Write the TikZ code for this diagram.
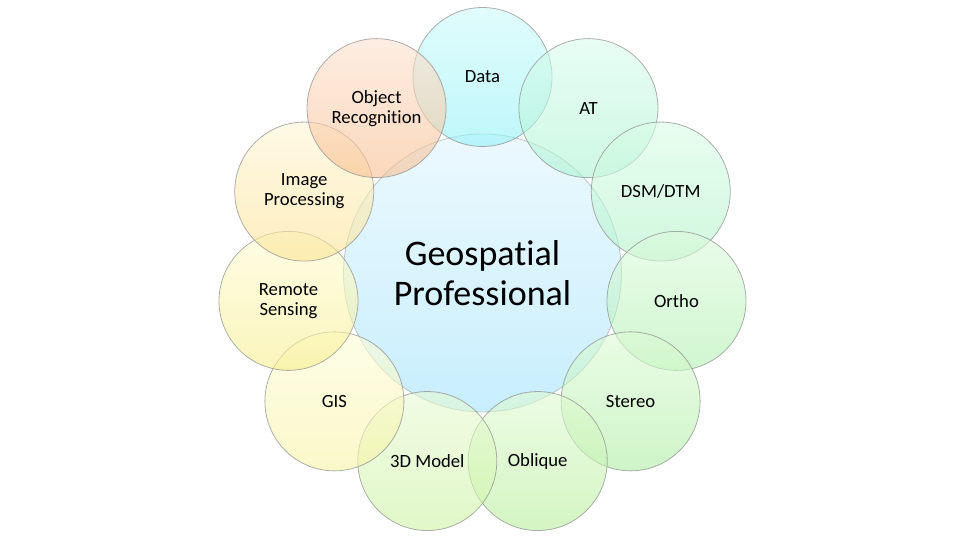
\documentclass[tikz,border=0pt]{standalone}
\usepackage{fontspec}
\setmainfont{Carlito}[Ligatures={NoCommon,NoRequired,NoContextual}]
\definecolor{cenT}{RGB}{223,245,253}\definecolor{cenB}{RGB}{163,227,252}
\definecolor{c1T}{RGB}{205,250,250}\definecolor{c1B}{RGB}{147,242,247}
\definecolor{c2T}{RGB}{217,252,237}\definecolor{c2B}{RGB}{172,243,210}
\definecolor{c3T}{RGB}{217,252,230}\definecolor{c3B}{RGB}{177,243,200}
\definecolor{c4T}{RGB}{220,250,220}\definecolor{c4B}{RGB}{177,240,177}
\definecolor{c5T}{RGB}{220,250,213}\definecolor{c5B}{RGB}{173,238,163}
\definecolor{c6T}{RGB}{223,250,210}\definecolor{c6B}{RGB}{183,238,155}
\definecolor{c7T}{RGB}{230,250,210}\definecolor{c7B}{RGB}{205,243,163}
\definecolor{c8T}{RGB}{253,253,217}\definecolor{c8B}{RGB}{247,243,163}
\definecolor{c9T}{RGB}{253,252,210}\definecolor{c9B}{RGB}{248,238,143}
\definecolor{c10T}{RGB}{255,245,213}\definecolor{c10B}{RGB}{252,227,147}
\definecolor{c11T}{RGB}{252,225,207}\definecolor{c11B}{RGB}{248,190,143}
\definecolor{edge}{RGB}{140,140,140}
\tikzset{
  bubble/.style 2 args={circle, inner sep=0pt, minimum size=104.25pt,
    top color=#1, bottom color=#2, fill opacity=0.6, text opacity=1,
    draw=edge, draw opacity=0.7, line width=0.6pt, align=center,
    font=\fontsize{14}{15}\selectfont},
  hub/.style={circle, inner sep=0pt, minimum size=208.5pt,
    top color=cenT, bottom color=cenB, fill opacity=0.6, text opacity=1,
    draw=edge, draw opacity=0.5, line width=0.6pt, align=center,
    font=\fontsize{27}{29.5}\selectfont}
}
\begin{document}
\begin{tikzpicture}[x=0.75pt,y=-0.75pt]
\useasboundingbox (0,0) rectangle (960,540);
\node[hub] (center) at (482.5,273) {Geospatial\\Professional};
\def\R{196}
\node[bubble={c1T}{c1B}] (data) at ({482.5+\R*cos(90)},{273-\R*sin(90)}) {Data};
\node[bubble={c2T}{c2B}] (at) at ({482.5+\R*cos(57.27)},{273-\R*sin(57.27)}) {AT};
\node[bubble={c3T}{c3B}] (dsm) at ({482.5+\R*cos(24.55)},{273-\R*sin(24.55)}) {DSM/DTM};
\node[bubble={c4T}{c4B}] (ortho) at ({482.5+\R*cos(-8.18)},{273-\R*sin(-8.18)}) {Ortho};
\node[bubble={c5T}{c5B}] (stereo) at ({482.5+\R*cos(-40.91)},{273-\R*sin(-40.91)}) {Stereo};
\node[bubble={c6T}{c6B}] (oblique) at ({482.5+\R*cos(-73.64)},{273-\R*sin(-73.64)}) {Oblique};
\node[bubble={c7T}{c7B}] (model) at ({482.5+\R*cos(-106.36)},{273-\R*sin(-106.36)}) {3D Model};
\node[bubble={c8T}{c8B}] (gis) at ({482.5+\R*cos(-139.09)},{273-\R*sin(-139.09)}) {GIS};
\node[bubble={c9T}{c9B}] (rs) at ({482.5+\R*cos(-171.82)},{273-\R*sin(-171.82)}) {Remote\\Sensing};
\node[bubble={c10T}{c10B}] (ip) at ({482.5+\R*cos(155.45)},{273-\R*sin(155.45)}) {Image\\Processing};
\node[bubble={c11T}{c11B}] (obj) at ({482.5+\R*cos(122.73)},{273-\R*sin(122.73)}) {Object\\Recognition};
\end{tikzpicture}
\end{document}
